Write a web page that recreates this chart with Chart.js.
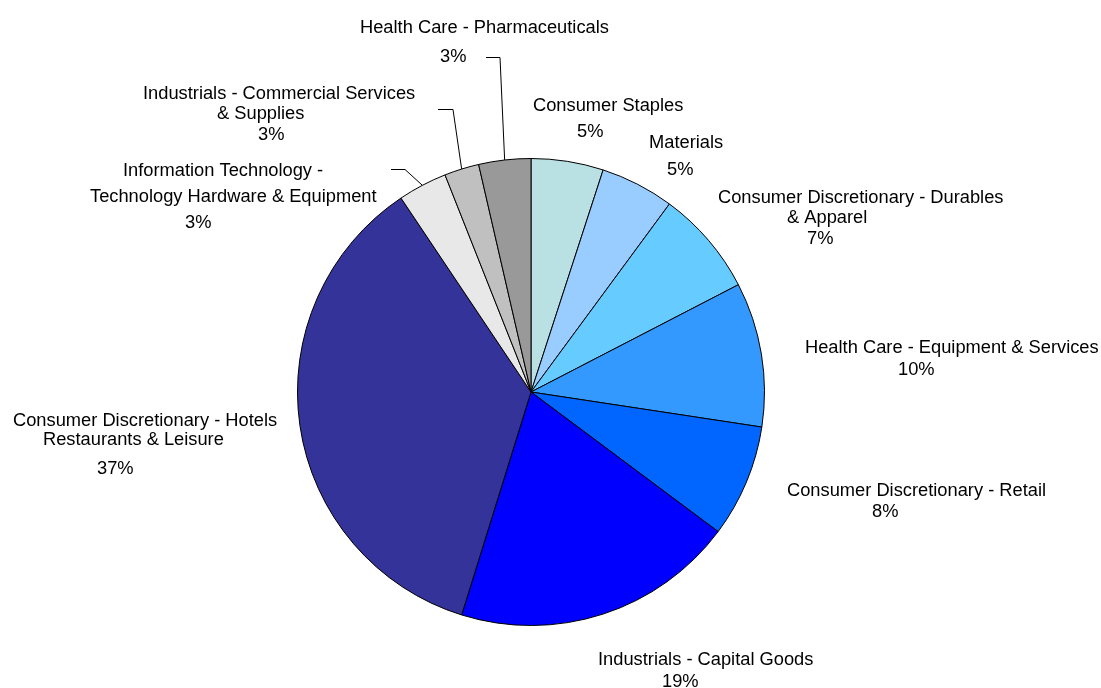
<!DOCTYPE html>
<html>
<head>
<meta charset="utf-8">
<script src="https://cdn.jsdelivr.net/npm/chart.js@4/dist/chart.umd.min.js"></script>
<style>
  html, body { margin: 0; padding: 0; background: #fff; }
  #wrap { width: 1101px; height: 688px; position: relative; }
</style>
</head>
<body>
<div id="wrap"><canvas id="sectorChart"></canvas></div>
<script>
// 数据
const categories = [
    ['Consumer Staples'],
    ['Materials'],
    ['Consumer Discretionary - Durables', '& Apparel'],
    ['Health Care - Equipment & Services'],
    ['Consumer Discretionary - Retail'],
    ['Industrials - Capital Goods'],
    ['Consumer Discretionary - Hotels', 'Restaurants & Leisure'],
    ['Information Technology -', 'Technology Hardware & Equipment'],
    ['Industrials - Commercial Services', '& Supplies'],
    ['Health Care - Pharmaceuticals']
];
const weights = [5.0, 5.1, 7.3, 10.0, 7.8, 19.6, 35.8, 3.4, 2.4, 3.6];
const pctLabels = ['5%', '5%', '7%', '10%', '8%', '19%', '37%', '3%', '3%', '3%'];

const colors = ['#B9E0E3', '#99CCFF', '#66CCFF', '#3399FF', '#0066FF',
                '#0000FF', '#333399', '#E8E8E8', '#C0C0C0', '#999999'];

// 标签位置 (左边 x, 基线 y)，每行一个
const labelPos = [
    [[533, 111], [577, 137]],
    [[649, 148], [667, 175]],
    [[718, 203], [787, 223], [807, 244]],
    [[805, 353], [898, 375]],
    [[787, 496], [872, 517]],
    [[598, 665], [662, 687]],
    [[13, 426], [43, 445], [97, 474]],
    [[123, 176], [90, 202], [185, 228]],
    [[143, 99], [217, 119], [258, 140]],
    [[360, 33], [440, 62]]
];
// 引线折点
const leaders = {
    7: [[391, 169], [405, 169]],
    8: [[438, 109], [453, 109]],
    9: [[486, 57], [500, 57]]
};

const labelPlugin = {
    id: 'sliceLabels',
    afterDraw(chart) {
        const ctx = chart.ctx;
        const arcs = chart.getDatasetMeta(0).data;
        ctx.save();
        ctx.fillStyle = '#000';
        ctx.font = '18.3px "Liberation Sans", Arial, sans-serif';
        ctx.textAlign = 'left';
        ctx.textBaseline = 'alphabetic';
        categories.forEach((lines, i) => {
            const texts = lines.concat([pctLabels[i]]);
            texts.forEach((t, j) => {
                const p = labelPos[i][j];
                ctx.fillText(t, p[0], p[1]);
            });
        });
        // 引线
        ctx.strokeStyle = '#000';
        ctx.lineWidth = 1;
        Object.keys(leaders).forEach(k => {
            const a = arcs[k];
            const mid = (a.startAngle + a.endAngle) / 2;
            const ex = a.x + Math.cos(mid) * a.outerRadius;
            const ey = a.y + Math.sin(mid) * a.outerRadius;
            const pts = leaders[k];
            ctx.beginPath();
            ctx.moveTo(pts[0][0], pts[0][1] + 0.5);
            ctx.lineTo(pts[1][0], pts[1][1] + 0.5);
            ctx.lineTo(ex, ey);
            ctx.stroke();
        });
        ctx.restore();
    }
};

const ctx = document.getElementById('sectorChart').getContext('2d');
const sectorChart = new Chart(ctx, {
    type: 'pie',
    data: {
        labels: categories.map(c => c.join(' ')),
        datasets: [{
            data: weights,
            backgroundColor: colors,
            borderColor: '#000',
            borderWidth: 1
        }]
    },
    options: {
        responsive: true,
        maintainAspectRatio: false,
        animation: false,
        layout: {
            padding: { left: 0, right: 39, top: 158, bottom: 62 }
        },
        plugins: {
            legend: { display: false },
            tooltip: { enabled: false }
        }
    },
    plugins: [labelPlugin]
});
</script>
</body>
</html>
